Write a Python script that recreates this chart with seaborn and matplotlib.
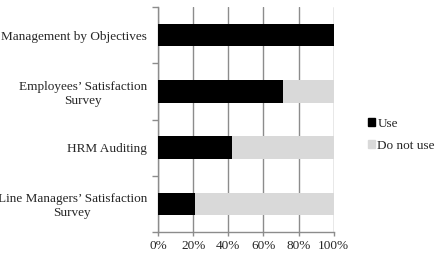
import numpy as np
import pandas as pd
import matplotlib
matplotlib.use("Agg")
import matplotlib.pyplot as plt
import seaborn as sns
from matplotlib.patches import Patch
from matplotlib.ticker import FixedLocator, PercentFormatter

# Data
categories = ["Management by Objectives",
              "Employees\u2019 Satisfaction\nSurvey",
              "HRM Auditing",
              "Line Managers\u2019 Satisfaction\nSurvey"]
use_pct = [100, 71, 42, 21]
total_pct = [100, 100, 100, 100]

df = pd.DataFrame({"method": categories, "use": use_pct, "total": total_pct})

sns.set_style("white")
plt.rcParams["font.family"] = ["Liberation Serif", "DejaVu Serif"]

grid_col = "#8c8c8c"
fs = 9.5
fig = plt.figure(figsize=(4.37, 2.59), dpi=100)
ax = fig.add_axes([0.3616, 0.1042, 0.4020, 0.8688])

# light grey "Do not use" part drawn as full bar, black "Use" on top
sns.barplot(data=df, x="total", y="method", orient="h", color="#d9d9d9",
            width=0.4, ax=ax, saturation=1, linewidth=0, zorder=3)
sns.barplot(data=df, x="use", y="method", orient="h", color="black",
            width=0.4, ax=ax, saturation=1, linewidth=0, zorder=4)

ax.set_xlim(0, 100)
ax.set_ylim(3.5, -0.5)
ax.set_xlabel("")
ax.set_ylabel("")

ax.set_xticks(np.arange(0, 101, 20))
ax.xaxis.set_major_formatter(PercentFormatter(decimals=0))
ax.grid(axis="x", color=grid_col, linewidth=1.0, zorder=0)
ax.set_axisbelow(True)

# category boundaries get tick marks, labels sit between them
ax.yaxis.set_major_locator(FixedLocator(np.arange(-0.5, 4, 1)))
ax.yaxis.set_major_formatter(plt.NullFormatter())
ax.yaxis.set_minor_locator(FixedLocator(np.arange(4)))
ax.set_yticklabels(categories, minor=True, multialignment="center")
ax.tick_params(axis="y", which="major", left=True, length=4, width=1, color=grid_col)
ax.tick_params(axis="y", which="minor", left=True, length=0, pad=8, labelsize=fs)
ax.tick_params(axis="x", bottom=True, length=3, width=1, color=grid_col, pad=3, labelsize=fs)

for side in ["top", "right"]:
    ax.spines[side].set_visible(False)
for side in ["left", "bottom"]:
    ax.spines[side].set_color(grid_col)
    ax.spines[side].set_linewidth(1.0)

handles = [Patch(color="black", label="Use"), Patch(color="#d9d9d9", label="Do not use")]
fig.legend(handles=handles, loc="center left", bbox_to_anchor=(0.826, 0.48),
           frameon=False, fontsize=fs, handlelength=0.6, handleheight=0.6,
           handletextpad=0.15, labelspacing=0.75, borderpad=0)

fig.savefig("out.png", dpi=100)
